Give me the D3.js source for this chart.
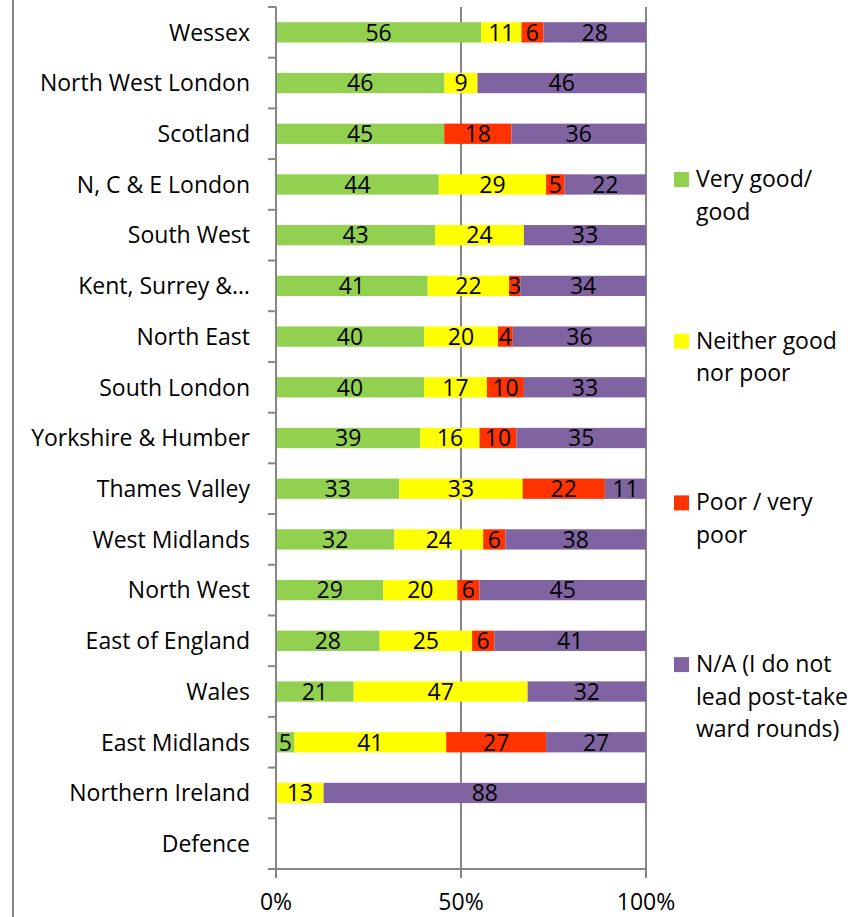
<!DOCTYPE html>
<html><head><meta charset="utf-8">
<script src="https://cdn.jsdelivr.net/npm/d3@7"></script>
<style>body{margin:0;background:#fff}svg{display:block}text{font-family:"Open Sans",sans-serif;font-size:23px;fill:#000}</style>
</head><body>
<svg id="c" width="854" height="917"></svg>
<script>
const categories = ["Wessex","North West London","Scotland","N, C & E London","South West","Kent, Surrey &\u2026","North East","South London","Yorkshire & Humber","Thames Valley","West Midlands","North West","East of England","Wales","East Midlands","Northern Ireland","Defence"];
const seriesNames = ["Very good/ good","Neither good nor poor","Poor / very poor","N/A (I do not lead post-take ward rounds)"];
const legendLines = [["Very good/","good"],["Neither good","nor poor"],["Poor / very","poor"],["N/A (I do not","lead post-take","ward rounds)"]];
const veryGood = [56,46,45,44,43,41,40,40,39,33,32,29,28,21,5,0,0];
const neither  = [11,9,0,29,24,22,20,17,16,33,24,20,25,47,41,13,0];
const poor     = [6,0,18,5,0,3,4,10,10,22,6,6,6,0,27,0,0];
const na       = [28,46,36,22,33,34,36,33,35,11,38,45,41,32,27,88,0];
const xTicks = [0,0.5,1];
const colors = ["#92D050","#FFFF00","#FF3300","#8064A2"];

const series = [veryGood, neither, poor, na];
const svg = d3.select("#c");
const x = d3.scaleLinear().domain([0,1]).range([276,646]);
const y = d3.scaleBand().domain(categories).range([7,869]).paddingInner(0.6).paddingOuter(0.3);
const step = y.step();
const axisColor = "#868686";

// left border
svg.append("line").attr("x1",13).attr("x2",13).attr("y1",0).attr("y2",917).attr("stroke",axisColor).attr("stroke-width",2);

// gridlines
svg.selectAll(".grid").data(xTicks.slice(1)).join("line")
  .attr("x1",d=>x(d)).attr("x2",d=>x(d)).attr("y1",7).attr("y2",869)
  .attr("stroke",axisColor).attr("stroke-width",2);

// bars
const rows = categories.map((c,i)=>{
  const vals = series.map(s=>s[i]);
  const tot = d3.sum(vals);
  let acc = 0;
  return vals.map((v,k)=>{const x0 = tot?acc/tot:0; acc+=v; return {c, k, v, x0, x1: tot?acc/tot:0};});
}).flat().filter(d=>d.v>0);

svg.selectAll(".bar").data(rows).join("rect")
  .attr("x",d=>x(d.x0)).attr("width",d=>x(d.x1)-x(d.x0))
  .attr("y",d=>y(d.c)).attr("height",y.bandwidth())
  .attr("fill",d=>colors[d.k]);

svg.selectAll(".lbl").data(rows).join("text")
  .attr("x",d=>(x(d.x0)+x(d.x1))/2).attr("y",d=>y(d.c)+y.bandwidth()/2)
  .attr("dy","0.36em").attr("text-anchor","middle").text(d=>d.v);

// y axis
const yAxisG = svg.append("g");
yAxisG.append("line").attr("x1",276).attr("x2",276).attr("y1",7).attr("y2",878).attr("stroke",axisColor).attr("stroke-width",2);
const bounds = d3.range(categories.length+1).map(i=>7+i*step);
yAxisG.selectAll(".yt").data(bounds).join("line")
  .attr("x1",268).attr("x2",276).attr("y1",d=>d).attr("y2",d=>d).attr("stroke",axisColor).attr("stroke-width",2);
yAxisG.selectAll(".yl").data(categories).join("text")
  .attr("x",250).attr("y",d=>y(d)+y.bandwidth()/2).attr("dy","0.36em").attr("text-anchor","end").text(d=>d);

// x axis
const xAxisG = svg.append("g");
xAxisG.append("line").attr("x1",268).attr("x2",646).attr("y1",869).attr("y2",869).attr("stroke",axisColor).attr("stroke-width",2);
xAxisG.selectAll(".xt").data(xTicks).join("line")
  .attr("x1",d=>x(d)).attr("x2",d=>x(d)).attr("y1",869).attr("y2",878).attr("stroke",axisColor).attr("stroke-width",2);
xAxisG.selectAll(".xl").data(xTicks).join("text")
  .attr("x",d=>x(d)).attr("y",910).attr("text-anchor","middle").text(d3.format(".0%"));

// legend
const lg = svg.append("g");
seriesNames.forEach((n,i)=>{
  const top = 172 + i*161.7;
  lg.append("rect").attr("x",674).attr("y",top).attr("width",15).attr("height",15).attr("fill",colors[i]);
  const t = lg.append("text").attr("x",696).attr("y",top+15);
  legendLines[i].forEach((ln,j)=>t.append("tspan").attr("x",696).attr("dy",j?32.5:0).text(ln));
});
</script>
</body></html>
